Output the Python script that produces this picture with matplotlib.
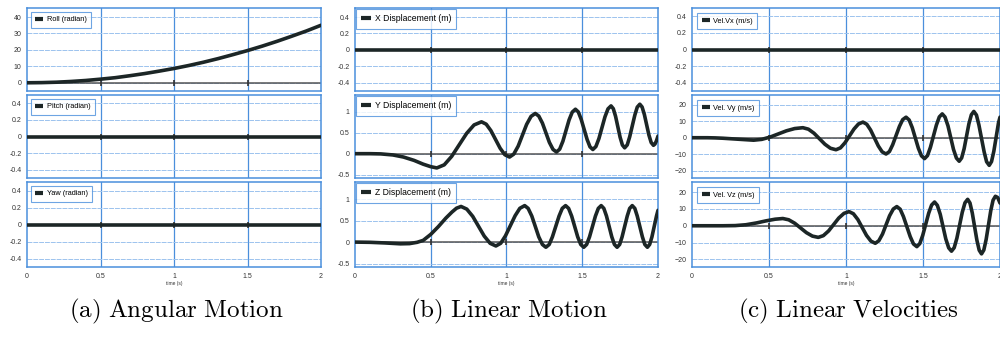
import matplotlib
matplotlib.use("Agg")
import matplotlib.pyplot as plt

plt.rcParams['font.family'] = ['Liberation Sans', 'DejaVu Sans']
plt.rcParams['mathtext.fontset'] = 'cm'

# ---- data ----
t_flat = [0, 0.5, 1, 1.5, 2]
pitch = [0, 0, 0, 0, 0]
yaw = [0, 0, 0, 0, 0]
x_disp = [0, 0, 0, 0, 0]
vel_x = [0, 0, 0, 0, 0]

t_roll = [0, 0.1, 0.2, 0.3, 0.4, 0.5, 0.6, 0.7, 0.8, 0.9, 1.0,
          1.1, 1.2, 1.3, 1.4, 1.5, 1.6, 1.7, 1.8, 1.9, 2.0]
roll = [0, 0.1, 0.35, 0.8, 1.4, 2.2, 3.1, 4.3, 5.6, 7.1, 8.7,
        10.5, 12.5, 14.7, 17.1, 19.6, 22.3, 25.2, 28.3, 31.5, 35]

t_ydisp = [0, 0.1, 0.17, 0.25, 0.32, 0.39, 0.45, 0.50, 0.54,
           0.589, 0.638, 0.6875, 0.737, 0.786, 0.835,
           0.866, 0.897, 0.9275, 0.958, 0.989, 1.02,
           1.048, 1.077, 1.105, 1.133, 1.162, 1.19,
           1.213, 1.237, 1.26, 1.283, 1.307, 1.33,
           1.351, 1.372, 1.3925, 1.413, 1.434, 1.455,
           1.474, 1.493, 1.5125, 1.532, 1.551, 1.57,
           1.59, 1.61, 1.63, 1.65, 1.67, 1.69,
           1.705, 1.72, 1.735, 1.75, 1.765, 1.78,
           1.797, 1.813, 1.83, 1.847, 1.863, 1.88,
           1.895, 1.91, 1.925, 1.94, 1.955, 1.97,
           1.98, 1.99, 2.0]
y_disp = [0, 0, -0.005, -0.03, -0.08, -0.16, -0.25, -0.31, -0.34,
          -0.266, -0.065, 0.21, 0.485, 0.686, 0.76,
          0.704, 0.55, 0.34, 0.13, -0.024, -0.08,
          -0.01, 0.18, 0.44, 0.70, 0.89, 0.96,
          0.898, 0.73, 0.50, 0.27, 0.102, 0.04,
          0.108, 0.295, 0.55, 0.805, 0.992, 1.06,
          0.996, 0.82, 0.58, 0.34, 0.164, 0.10,
          0.17, 0.36, 0.62, 0.88, 1.07, 1.14,
          1.073, 0.89, 0.64, 0.39, 0.207, 0.14,
          0.21, 0.40, 0.66, 0.92, 1.11, 1.18,
          1.114, 0.935, 0.69, 0.445, 0.266, 0.20,
          0.23, 0.31, 0.42]

t_zdisp = [0, 0.1, 0.2, 0.3, 0.36, 0.41, 0.45, 0.5, 0.55, 0.6, 0.64, 0.67, 0.70,
           0.738, 0.777, 0.815, 0.853, 0.892, 0.93,
           0.962, 0.993, 1.025, 1.057, 1.088, 1.12,
           1.143, 1.167, 1.19, 1.213, 1.237, 1.26,
           1.282, 1.303, 1.325, 1.347, 1.368, 1.39,
           1.41, 1.43, 1.45, 1.47, 1.49, 1.51,
           1.529, 1.548, 1.5675, 1.587, 1.606, 1.625,
           1.6425, 1.66, 1.6775, 1.695, 1.7125, 1.73,
           1.747, 1.763, 1.78, 1.797, 1.813, 1.83,
           1.847, 1.863, 1.88, 1.897, 1.913, 1.93,
           1.945, 1.96, 1.975, 1.99, 2.0]
z_disp = [0, -0.005, -0.02, -0.04, -0.035, -0.005, 0.04, 0.18, 0.36, 0.56, 0.70, 0.79, 0.83,
          0.768, 0.60, 0.37, 0.14, -0.028, -0.09,
          -0.027, 0.145, 0.38, 0.615, 0.787, 0.85,
          0.785, 0.607, 0.365, 0.122, -0.055, -0.12,
          -0.055, 0.122, 0.365, 0.607, 0.785, 0.85,
          0.785, 0.607, 0.365, 0.122, -0.055, -0.12,
          -0.055, 0.122, 0.365, 0.607, 0.785, 0.85,
          0.785, 0.607, 0.365, 0.122, -0.055, -0.12,
          -0.055, 0.122, 0.365, 0.607, 0.785, 0.85,
          0.785, 0.607, 0.365, 0.122, -0.055, -0.12,
          -0.055, 0.122, 0.365, 0.607, 0.74]

t_vy = [0, 0.1, 0.15, 0.2, 0.3, 0.4,
        0.453, 0.507, 0.56, 0.613, 0.667, 0.72,
        0.756, 0.792, 0.8275, 0.863, 0.899, 0.935,
        0.964, 0.993, 1.0225, 1.052, 1.081, 1.11,
        1.135, 1.16, 1.185, 1.21, 1.235, 1.26,
        1.282, 1.303, 1.325, 1.347, 1.368, 1.39,
        1.41, 1.43, 1.45, 1.47, 1.49, 1.51,
        1.529, 1.548, 1.5675, 1.587, 1.606, 1.625,
        1.643, 1.662, 1.68, 1.698, 1.717, 1.735,
        1.751, 1.767, 1.7825, 1.798, 1.814, 1.83,
        1.847, 1.863, 1.88, 1.897, 1.913, 1.93,
        1.945, 1.96, 1.975, 1.99, 2.0]
vel_y = [0, 0, -0.1, -0.3, -0.9, -1.5,
         -0.99, 0.4, 2.3, 4.2, 5.59, 6.1,
         5.2, 2.75, -0.6, -3.95, -6.4, -7.3,
         -6.17, -3.1, 1.1, 5.3, 8.37, 9.5,
         8.2, 4.65, -0.2, -5.05, -8.6, -9.9,
         -8.4, -4.3, 1.3, 6.9, 11.0, 12.5,
         10.81, 6.2, -0.1, -6.4, -11.01, -12.7,
         -10.88, -5.9, 0.9, 7.7, 12.68, 14.5,
         12.57, 7.3, 0.1, -7.1, -12.37, -14.3,
         -12.27, -6.72, 0.85, 8.43, 13.97, 16.0,
         13.8, 7.8, -0.4, -8.6, -14.6, -16.8,
         -14.5, -8.2, 0.35, 8.9, 12.5]

t_vz = [0, 0.1, 0.2, 0.28, 0.35, 0.42, 0.48, 0.54, 0.59,
        0.628, 0.667, 0.705, 0.743, 0.782, 0.82,
        0.853, 0.887, 0.92, 0.953, 0.987, 1.02,
        1.048, 1.077, 1.105, 1.133, 1.162, 1.19,
        1.213, 1.237, 1.26, 1.283, 1.307, 1.33,
        1.352, 1.373, 1.395, 1.417, 1.438, 1.46,
        1.479, 1.498, 1.5175, 1.537, 1.556, 1.575,
        1.593, 1.612, 1.63, 1.648, 1.667, 1.685,
        1.7025, 1.72, 1.7375, 1.755, 1.7725, 1.79,
        1.805, 1.82, 1.835, 1.85, 1.865, 1.88,
        1.895, 1.91, 1.925, 1.94, 1.955, 1.97,
        1.985, 2.0]
vel_z = [0, 0, 0, 0.1, 0.6, 1.7, 2.9, 3.9, 4.3,
         3.55, 1.5, -1.3, -4.1, -6.15, -6.9,
         -5.87, -3.07, 0.75, 4.58, 7.37, 8.4,
         7.14, 3.7, -1.0, -5.7, -9.14, -10.4,
         -8.94, -4.95, 0.5, 5.95, 9.94, 11.4,
         9.81, 5.45, -0.5, -6.45, -10.8, -12.4,
         -10.62, -5.77, 0.85, 7.48, 12.32, 14.1,
         12.14, 6.8, -0.5, -7.8, -13.14, -15.1,
         -13.04, -7.4, 0.3, 8.0, 13.64, 15.7,
         13.53, 7.6, -0.5, -8.6, -14.53, -16.7,
         -14.41, -8.15, 0.4, 8.95, 15.2, 17.5,
         16.8, 13.5]

x_ticks = [0, 0.5, 1, 1.5, 2]
x_tick_labels = ['0', '0.5', '1', '1.5', '2']

small_ticks = [-0.4, -0.2, 0, 0.2, 0.4]
small_labels = ['-0.4', '-0.2', '0', '0.2', '0.4']
roll_ticks = [0, 10, 20, 30, 40]
disp_ticks = [-0.5, 0, 0.5, 1]
disp_labels = ['-0.5', '0', '0.5', '1']
vel_ticks = [-20, -10, 0, 10, 20]

captions = ['(a) Angular Motion', '(b) Linear Motion', '(c) Linear Velocities']

# ---- layout ----
W, H = 1000, 339
fig = plt.figure(figsize=(10, 3.39), dpi=100)

col_x = [(27, 321), (355, 658), (692, 1000)]
row_y = [(8, 91), (95, 178), (182, 267)]

blue = '#4a8fdc'
light_blue = '#9cc3ee'
curve_col = '#1c2626'

panels = [
    [(t_roll, roll, 'Roll (radian)', (-5, 45.5), roll_ticks, None),
     (t_flat, pitch, 'Pitch (radian)', (-0.5, 0.5), small_ticks, small_labels),
     (t_flat, yaw, 'Yaw (radian)', (-0.5, 0.5), small_ticks, small_labels)],
    [(t_flat, x_disp, 'X Displacement (m)', (-0.5, 0.51), small_ticks, small_labels),
     (t_ydisp, y_disp, 'Y Displacement (m)', (-0.58, 1.4), disp_ticks, disp_labels),
     (t_zdisp, z_disp, 'Z Displacement (m)', (-0.58, 1.4), disp_ticks, disp_labels)],
    [(t_flat, vel_x, 'Vel.Vx (m/s)', (-0.5, 0.5), small_ticks, small_labels),
     (t_vy, vel_y, 'Vel. Vy (m/s)', (-24.5, 26), vel_ticks, None),
     (t_vz, vel_z, 'Vel. Vz (m/s)', (-24.5, 26), vel_ticks, None)],
]
leg_size = [5.3, 6.2, 5.3]
leg_pad = [0.5, 0.15, 0.7]

for c, col in enumerate(panels):
    x0, x1 = col_x[c]
    for r, (tt, vals, name, ylim, yt, ylab) in enumerate(col):
        y0, y1 = row_y[r]
        ax = fig.add_axes([x0 / W, 1 - y1 / H, (x1 - x0) / W, (y1 - y0) / H])
        ax.set_xlim(0, 2)
        ax.set_ylim(*ylim)
        ax.set_xticks(x_ticks)
        ax.set_yticks(yt)
        if ylab is not None:
            ax.set_yticklabels(ylab)
        for s in ax.spines.values():
            s.set_color(blue)
            s.set_linewidth(1.1)
        ax.tick_params(length=0, labelsize=5, colors='#333333', pad=4)
        for xv in x_ticks[1:-1]:
            ax.axvline(xv, color=blue, lw=0.9, zorder=1)
        for yv in yt:
            ax.axhline(yv, color=light_blue, lw=0.7, ls=(0, (5, 1)), zorder=1)
        ax.axhline(0, color='#555555', lw=1.1, zorder=2)
        ax.plot(x_ticks[1:-1], [0] * 3, ls='none', marker='|', ms=4,
                mew=1.2, color='#333333', zorder=2)
        ax.plot(tt, vals, color=curve_col, lw=2.6, label=name, zorder=3,
                solid_joinstyle='round', solid_capstyle='round')
        leg = ax.legend(loc='upper left', fontsize=leg_size[c], handlelength=1.1,
                        handletextpad=0.45, borderpad=0.6, frameon=True,
                        fancybox=False, borderaxespad=leg_pad[c])
        leg.get_frame().set_edgecolor(blue)
        leg.get_frame().set_linewidth(0.8)
        for h in leg.get_lines():
            h.set_linewidth(3)
            h.set_solid_capstyle('butt')
        if r < 2:
            ax.set_xticklabels([])
        else:
            ax.set_xticklabels(x_tick_labels)
            ax.set_xlabel('time (s)', fontsize=3.5, labelpad=1, color='#333333')

    fig.text((x0 + x1) / 2 / W + 0.002, 1 - 311 / H,
             r'$\mathrm{' + captions[c].replace(' ', r'\ ') + '}$',
             ha='center', va='center', fontsize=18)

fig.savefig('out.png', dpi=100)
